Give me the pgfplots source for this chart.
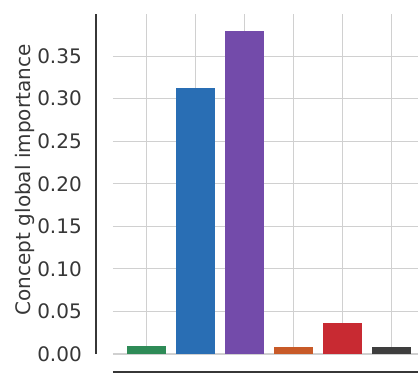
\documentclass[border=0pt]{standalone}
\usepackage{pgfplots}
\pgfplotsset{compat=1.18}
\usepackage{fontspec}
\setmainfont{DejaVu Sans}
\definecolor{cgreen}{RGB}{46,139,87}
\definecolor{cblue}{RGB}{41,110,180}
\definecolor{cpurple}{RGB}{115,75,170}
\definecolor{corange}{RGB}{200,90,40}
\definecolor{cred}{RGB}{200,42,50}
\definecolor{cdark}{RGB}{62,62,62}
\definecolor{txt}{RGB}{55,55,55}
\definecolor{gridc}{RGB}{208,208,208}
\begin{document}
\begin{tikzpicture}
\begin{axis}[
  at={(113pt,19pt)}, anchor=south west,
  scale only axis, width=305pt, height=340pt,
  xmin=-0.69, xmax=5.534, ymin=0, ymax=0.3995,
  ybar, bar width=0.8, bar shift=0pt,
  axis line style={draw=none},
  xtick={0,1,2,3,4,5}, xticklabels={},
  ytick={0,0.05,0.10,0.15,0.20,0.25,0.30,0.35},
  major tick length=0pt,
  grid=major, major grid style={gridc, line width=1.2pt},
  /pgf/number format/assume math mode=true,
  /pgf/number format/.cd, fixed, fixed zerofill, precision=2, /pgfplots/.cd,
  yticklabel style={font=\fontsize{20}{24}\selectfont, text=txt, inner sep=0pt, anchor=east},
  yticklabel shift=31pt,
  ylabel={Concept global importance},
  every axis y label/.style={at={([xshift=-82pt]rel axis cs:0,0.512)}, rotate=90, anchor=base, font=\fontsize{20}{24}\selectfont, text=txt},
  clip=false,
]
\addplot[fill=cgreen, draw=none] coordinates {(0,0.0095)};
\addplot[fill=cblue, draw=none] coordinates {(1,0.312)};
\addplot[fill=cpurple, draw=none] coordinates {(2,0.379)};
\addplot[fill=corange, draw=none] coordinates {(3,0.0088)};
\addplot[fill=cred, draw=none] coordinates {(4,0.036)};
\addplot[fill=cdark, draw=none] coordinates {(5,0.0088)};
\draw[txt, line width=2pt] ([xshift=-17pt]rel axis cs:0,0) -- ([xshift=-17pt]rel axis cs:0,1);
\draw[txt, line width=2pt] ([yshift=-17.5pt]rel axis cs:0,0) -- ([yshift=-17.5pt]rel axis cs:1,0);
\end{axis}
\pgfresetboundingbox
\useasboundingbox (0,0) rectangle (418pt,373pt);
\end{tikzpicture}
\end{document}
